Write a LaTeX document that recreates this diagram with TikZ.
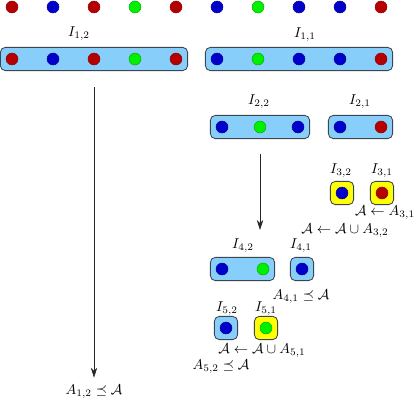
\documentclass[tikz,border=0pt]{standalone}
\usepackage{amsmath,amssymb}
\usetikzlibrary{arrows.meta,fit,backgrounds}

\definecolor{colr}{RGB}{180,0,0}
\definecolor{colb}{RGB}{0,0,200}
\definecolor{colg}{RGB}{0,240,0}
\definecolor{boxblue}{RGB}{135,206,250}
\definecolor{boxyellow}{RGB}{255,255,0}
\definecolor{boxline}{RGB}{60,70,80}

\tikzset{
  dot/.style={circle,minimum size=8.4pt,inner sep=0pt,line width=0.3pt},
  dotr/.style={dot,fill=colr,draw=colr!80!black},
  dotb/.style={dot,fill=colb,draw=colb!80!black},
  dotg/.style={dot,fill=colg,draw=colg!70!black},
  bluebox/.style={draw=boxline,fill=boxblue,rounded corners=3.5pt,inner sep=3.8pt,line width=0.6pt},
  yellowbox/.style={bluebox,fill=boxyellow},
  lbl/.style={inner sep=0pt},
  arr/.style={-{Stealth[length=7pt,width=4.5pt]},black!85,line width=0.5pt},
}

\begin{document}
\begin{tikzpicture}[x=0.7pt,y=-0.7pt]
  \useasboundingbox (0,0) rectangle (415,401);

  % the whole sequence
  \foreach \c [count=\i from 0] in {r,b,r,g,r,b,g,b,b,r}
    \node[dot\c] (t\i) at (12+41*\i,7) {};

  % first split
  \node[dotr] (a1) at (12,59) {};
  \node[dotb] (a2) at (53,59) {};
  \node[dotr] (a3) at (94,59) {};
  \node[dotg] (a4) at (135,59) {};
  \node[dotr] (a5) at (176,59) {};
  \node[dotb] (b1) at (217,59) {};
  \node[dotg] (b2) at (258,59) {};
  \node[dotb] (b3) at (299,59) {};
  \node[dotb] (b4) at (340,59) {};
  \node[dotr] (b5) at (381,59) {};

  % second split
  \node[dotb] (c1) at (222,127) {};
  \node[dotg] (c2) at (260,127) {};
  \node[dotb] (c3) at (298,127) {};
  \node[dotb] (e1) at (340,127) {};
  \node[dotr] (e2) at (381,127) {};

  % single elements
  \node[dotb] (f1) at (342,193) {};
  \node[dotr] (f2) at (382,193) {};

  \node[dotb] (g1) at (222,269) {};
  \node[dotg] (g2) at (263,269) {};
  \node[dotb] (h1) at (302,269) {};

  \node[dotb] (k1) at (226,328) {};
  \node[dotg] (k2) at (266,328) {};

  \begin{scope}[on background layer]
    \node[bluebox,fit=(a1)(a5)] (I12) {};
    \node[bluebox,fit=(b1)(b5)] (I11) {};
    \node[bluebox,fit=(c1)(c3)] (I22) {};
    \node[bluebox,fit=(e1)(e2)] (I21) {};
    \node[yellowbox,fit=(f1)] (I32) {};
    \node[yellowbox,fit=(f2)] (I31) {};
    \node[bluebox,fit=(g1)(g2)] (I42) {};
    \node[bluebox,fit=(h1)] (I41) {};
    \node[bluebox,fit=(k1)] (I52) {};
    \node[yellowbox,fit=(k2)] (I51) {};
  \end{scope}

  % interval names
  \node[lbl] (l12) at (79,34) {$I_{1,2}$};
  \node[lbl] (l11) at (305,35) {$I_{1,1}$};
  \node[lbl] (l22) at (259,102) {$I_{2,2}$};
  \node[lbl] (l21) at (360,102) {$I_{2,1}$};
  \node[lbl] (l32) at (341,171) {$I_{3,2}$};
  \node[lbl] (l31) at (382,171) {$I_{3,1}$};
  \node[lbl] (l42) at (243,246) {$I_{4,2}$};
  \node[lbl] (l41) at (301,246) {$I_{4,1}$};
  \node[lbl] (l52) at (227,309) {$I_{5,2}$};
  \node[lbl] (l51) at (266,309) {$I_{5,1}$};

  % updates
  \node[lbl] (u31) at (385,213) {$\mathcal{A}\leftarrow A_{3,1}$};
  \node[lbl] (u32) at (345,231) {$\mathcal{A}\leftarrow \mathcal{A}\cup A_{3,2}$};
  \node[lbl] (u41) at (301,297) {$A_{4,1}\preceq\mathcal{A}$};
  \node[lbl] (u51) at (262,351) {$\mathcal{A}\leftarrow \mathcal{A}\cup A_{5,1}$};
  \node[lbl] (u52) at (221,367) {$A_{5,2}\preceq\mathcal{A}$};
  \node[lbl] (u12) at (94,392) {$A_{1,2}\preceq\mathcal{A}$};

  \coordinate (m) at (260,230);
  \draw[arr,shorten <=11pt,shorten >=5pt] (I12) -- (u12);
  \draw[arr,shorten <=10.5pt] (I22) -- (m);
\end{tikzpicture}
\end{document}
